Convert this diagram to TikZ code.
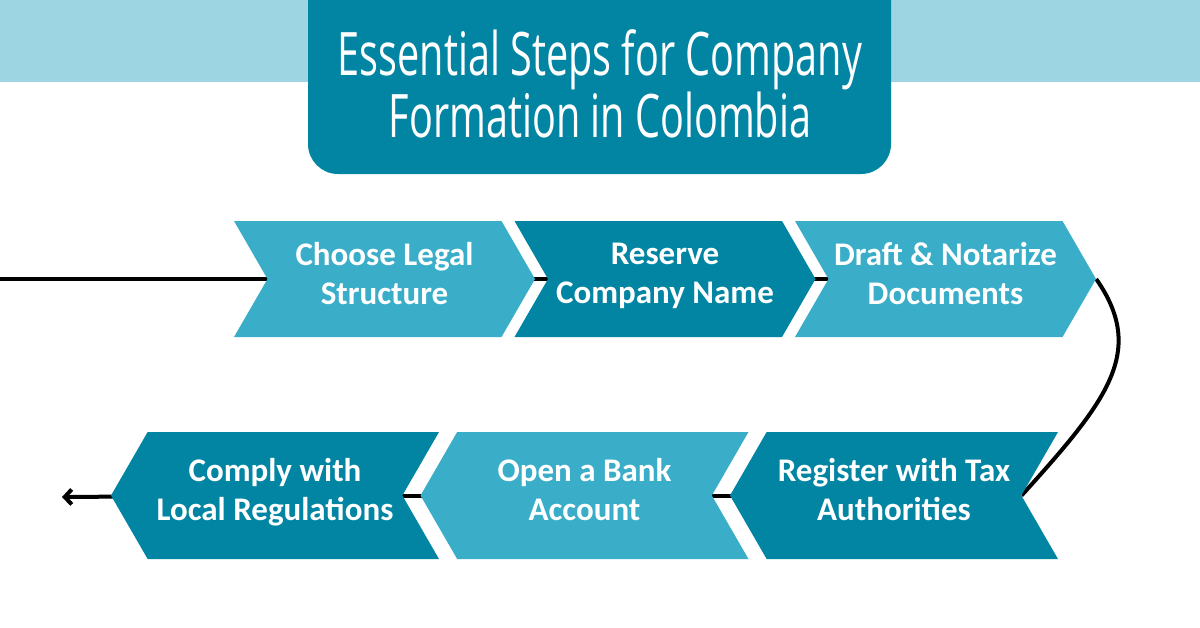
\documentclass[tikz,border=0pt]{standalone}
\usepackage{fontspec}
\setmainfont{Carlito}
\newfontfamily\titlefont[FakeStretch=0.66]{Open Sans}
\usetikzlibrary{arrows.meta, positioning, shapes.symbols, backgrounds}
\definecolor{tealdark}{HTML}{0285A3}
\definecolor{teallight}{HTML}{3AAEC8}
\definecolor{bandblue}{HTML}{9DD5E2}

\begin{document}
\begin{tikzpicture}[
	  x=1pt, y=-1pt,
	  font=\bfseries\fontsize{33}{39}\selectfont,
	  chevron/.style={
	    signal,
	    signal pointer angle=120,
	    text=white,
	    align=center,
	    inner sep=0pt,
	    execute at begin node=\strut,
	    execute at end node=\strut
	  },
	  fwdstep/.style={chevron, signal from=west, signal to=east,
	    minimum width=301pt, minimum height=116pt},
	  backstep/.style={chevron, signal from=east, signal to=west,
	    minimum width=328pt, minimum height=127pt},
	  lightstep/.style={fill=teallight},
	  darkstep/.style={fill=tealdark},
	  link/.style={line width=4pt, black},
	  arrow/.style={link, -{Straight Barb[length=7pt,width=15pt]}}
	]
	\useasboundingbox (0,0) rectangle (1200,627);
	
	% Band and title
	\fill[bandblue] (0,0) rectangle (1200,82);
	\fill[tealdark, rounded corners=30pt] (308,-40) rectangle (891,174);
	\node[font=\titlefont\fontsize{60}{62}\selectfont, text=white, align=center]
	  (title) at (600,84) {Essential Steps for Company\\Formation in Colombia};
	
	% Upper row
	\node[fwdstep, lightstep] (legal) at (384.5,279) {Choose Legal\\Structure};
	\node[fwdstep, darkstep] (name) at ([xshift=280.5pt]legal.center) {Reserve\\Company Name};
	\node[fwdstep, lightstep] (docs) at ([xshift=280.5pt]name.center) {Draft \& Notarize\\Documents};
	
	% Lower row
	\node[backstep, darkstep] (tax) at (894,495.5) {Register with Tax\\Authorities};
	\node[backstep, lightstep] (bank) at ([xshift=-309.5pt]tax.center) {Open a Bank\\Account};
	\node[backstep, darkstep] (comply) at ([xshift=-309.5pt]bank.center) {Comply with\\Local Regulations};
	
	% Connectors behind the steps
	\begin{scope}[on background layer]
	  \coordinate (start) at (0,279);
	  \coordinate (finish) at (62,497);
	  \draw[link] (start) -- (legal.center);
	  \draw[link] (legal.center) -- (name.center);
	  \draw[link] (name.center) -- (docs.center);
	  \draw[link] (docs.east) .. controls +(50,72) and +(87,-96) .. (tax.east);
	  \draw[link] (tax.center) -- (bank.center);
	  \draw[link] (bank.center) -- (comply.center);
	  \draw[arrow] (comply.center) -- (finish);
	\end{scope}
	
	\end{tikzpicture}
\end{document}
